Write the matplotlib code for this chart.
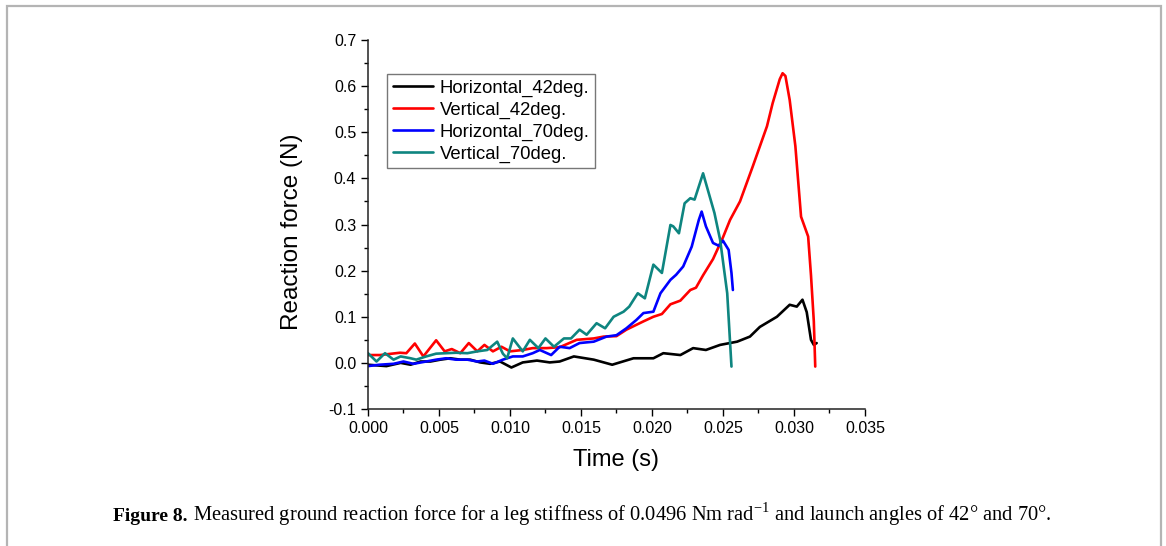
import matplotlib
matplotlib.use("Agg")
import matplotlib.pyplot as plt
from matplotlib.patches import Rectangle
from matplotlib.ticker import MultipleLocator, FormatStrFormatter

plt.rcParams['font.family'] = ['Liberation Sans', 'DejaVu Sans']
plt.rcParams['mathtext.fontset'] = 'custom'
plt.rcParams['mathtext.rm'] = 'Liberation Serif'

# Horizontal_42deg.
t_h42 = [0, 0.0013, 0.0023, 0.0030, 0.0037, 0.0044, 0.0051, 0.0058, 0.0065, 0.0072,
         0.0079, 0.0086, 0.0093, 0.0101, 0.0109, 0.0119, 0.0128, 0.0135, 0.0145, 0.0159,
         0.0172, 0.0187, 0.0201, 0.0208, 0.0220, 0.0229, 0.0238, 0.0248, 0.0260, 0.0269,
         0.0276, 0.0288, 0.0297, 0.0302, 0.0306, 0.0309, 0.0312, 0.0314, 0.0316]
f_h42 = [-0.004, -0.007, 0.000, -0.004, 0.003, 0.003, 0.007, 0.010, 0.007, 0.007,
         0.001, -0.002, 0.003, -0.010, 0.001, 0.005, 0.001, 0.003, 0.014, 0.007,
         -0.004, 0.010, 0.010, 0.021, 0.017, 0.032, 0.028, 0.039, 0.046, 0.057,
         0.078, 0.100, 0.126, 0.122, 0.137, 0.110, 0.050, 0.039, 0.043]

# Vertical_42deg.
t_v42 = [0, 0.00085, 0.00225, 0.0027, 0.0033, 0.0039, 0.0048, 0.0054, 0.0059, 0.0065,
         0.0071, 0.0077, 0.0082, 0.0088, 0.0094, 0.0100, 0.0109, 0.0116, 0.0126, 0.0135,
         0.0147, 0.0159, 0.0166, 0.0175, 0.0182, 0.0194, 0.0201, 0.0207, 0.0213, 0.0220,
         0.0227, 0.0231, 0.0236, 0.0243, 0.0250, 0.0255, 0.0262, 0.0271, 0.0281, 0.0285,
         0.0290, 0.0292, 0.0294, 0.0297, 0.0301, 0.0305, 0.0310, 0.0312, 0.0314, 0.0315]
f_v42 = [0.017, 0.017, 0.022, 0.021, 0.042, 0.014, 0.049, 0.025, 0.030, 0.021,
         0.043, 0.025, 0.039, 0.025, 0.035, 0.025, 0.028, 0.032, 0.032, 0.034,
         0.050, 0.053, 0.057, 0.058, 0.072, 0.090, 0.100, 0.106, 0.127, 0.135,
         0.158, 0.163, 0.190, 0.225, 0.272, 0.310, 0.350, 0.426, 0.513, 0.563,
         0.615, 0.628, 0.622, 0.570, 0.470, 0.317, 0.274, 0.190, 0.090, -0.008]

# Horizontal_70deg.
t_h70 = [0, 0.0008, 0.0018, 0.0025, 0.0032, 0.0041, 0.0048, 0.0055, 0.0062, 0.0070,
         0.0077, 0.0082, 0.0088, 0.0095, 0.0102, 0.0109, 0.0116, 0.0121, 0.0129, 0.0135,
         0.0142, 0.0149, 0.0159, 0.0168, 0.0175, 0.0182, 0.0189, 0.0194, 0.0201, 0.0206,
         0.0213, 0.0217, 0.0222, 0.0228, 0.0233, 0.0235, 0.0238, 0.0243, 0.0247, 0.0250,
         0.0254, 0.0256, 0.0257]
f_h70 = [-0.007, -0.004, -0.002, 0.003, -0.002, 0.003, 0.007, 0.010, 0.007, 0.007,
         0.003, 0.005, -0.002, 0.007, 0.014, 0.014, 0.021, 0.028, 0.017, 0.035,
         0.032, 0.043, 0.046, 0.057, 0.060, 0.075, 0.093, 0.108, 0.111, 0.151,
         0.180, 0.191, 0.209, 0.252, 0.310, 0.328, 0.296, 0.260, 0.254, 0.265,
         0.245, 0.195, 0.158]

# Vertical_70deg.
t_v70 = [0, 0.0006, 0.0012, 0.0018, 0.0023, 0.0030, 0.0034, 0.0041, 0.0048, 0.0055,
         0.0062, 0.0070, 0.0077, 0.0084, 0.0091, 0.0095, 0.0098, 0.0102, 0.0109, 0.0114,
         0.0120, 0.0125, 0.0131, 0.0138, 0.0143, 0.0149, 0.0154, 0.0161, 0.0167, 0.0173,
         0.0180, 0.0184, 0.0190, 0.0195, 0.0201, 0.0207, 0.0213, 0.0215, 0.0219, 0.0223,
         0.0227, 0.0230, 0.0236, 0.0240, 0.0244, 0.0248, 0.0253, 0.0256]
f_v70 = [0.021, 0.003, 0.021, 0.007, 0.014, 0.010, 0.007, 0.014, 0.020, 0.021,
         0.022, 0.021, 0.025, 0.028, 0.046, 0.020, 0.010, 0.053, 0.025, 0.050,
         0.032, 0.053, 0.035, 0.053, 0.053, 0.072, 0.061, 0.086, 0.075, 0.100,
         0.111, 0.122, 0.151, 0.140, 0.213, 0.195, 0.299, 0.296, 0.281, 0.346,
         0.357, 0.354, 0.411, 0.368, 0.325, 0.267, 0.151, -0.008]

fig = plt.figure(figsize=(11.66, 5.46), dpi=100)
ax = fig.add_axes([0.3156, 0.2509, 0.4262, 0.6758])

lw = 1.9
style = dict(lw=lw, solid_joinstyle='round', solid_capstyle='round')
ax.plot(t_h42, f_h42, color='black', label='Horizontal_42deg.', **style)
ax.plot(t_v42, f_v42, color='#ff0000', label='Vertical_42deg.', **style)
ax.plot(t_h70, f_h70, color='#0000ff', label='Horizontal_70deg.', **style)
ax.plot(t_v70, f_v70, color='#0e8580', label='Vertical_70deg.', **style)

ax.set_xlim(0, 0.035)
ax.set_ylim(-0.1, 0.7)
ax.xaxis.set_major_locator(MultipleLocator(0.005))
ax.xaxis.set_minor_locator(MultipleLocator(0.0025))
ax.yaxis.set_major_locator(MultipleLocator(0.1))
ax.yaxis.set_minor_locator(MultipleLocator(0.05))
ax.xaxis.set_major_formatter(FormatStrFormatter('%.3f'))
ax.yaxis.set_major_formatter(FormatStrFormatter('%.1f'))

for s in ['top', 'right']:
    ax.spines[s].set_visible(False)
for s in ['left', 'bottom']:
    ax.spines[s].set_linewidth(1.1)
    ax.spines[s].set_color('#222222')
ax.tick_params(which='major', direction='out', length=5, width=1, labelsize=11.5, pad=3.5)
ax.tick_params(which='minor', direction='out', length=3, width=1)

ax.set_xlabel('Time (s)', fontsize=17)
ax.set_ylabel('Reaction force (N)', fontsize=17.5)
ax.xaxis.set_label_coords(0.5, -0.138)
ax.xaxis.label.set_va('center')
ax.yaxis.set_label_coords(-0.152, 0.48)
ax.yaxis.label.set_va('center')

leg = ax.legend(loc='upper left', bbox_to_anchor=(387 / 1166, 1 - 74 / 546),
                bbox_transform=fig.transFigure, borderaxespad=0, fontsize=13.3,
                fancybox=False, frameon=True, handlelength=2.2, handletextpad=0.35,
                labelspacing=0.26, borderpad=0.3)
leg.get_frame().set_edgecolor('#555555')
leg.get_frame().set_linewidth(1.0)

# page frame
fig.patches.append(Rectangle((7 / 1166, -0.1), (1161 - 7) / 1166, 1.1 - 6 / 546,
                             transform=fig.transFigure, fill=False,
                             edgecolor='#b4b4b4', lw=1.6))

cap_y = 1 - 521 / 546
fig.text(113 / 1166, cap_y, 'Figure 8.', fontsize=14, family='Liberation Serif',
         fontweight='bold', va='baseline', ha='left')
fig.text(193 / 1166, cap_y,
         'Measured ground reaction force for a leg stiffness of 0.0496 Nm rad$^{\\mathregular{-1}}$ '
         'and launch angles of 42\u00b0 and 70\u00b0.',
         fontsize=14.8, family='Liberation Serif', va='baseline', ha='left')

fig.savefig('out.png', dpi=100)
